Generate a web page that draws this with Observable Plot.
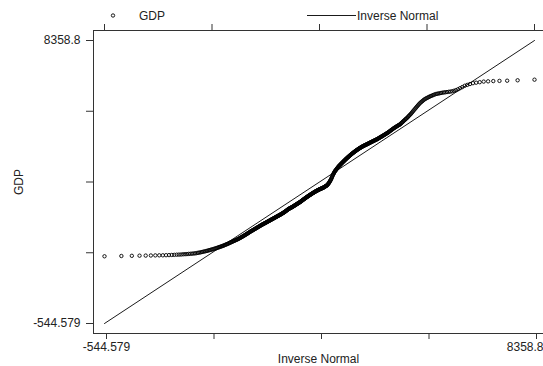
<!DOCTYPE html>
<html>
<head>
<meta charset="utf-8">
<script src="https://cdn.jsdelivr.net/npm/d3@7"></script>
<script src="https://cdn.jsdelivr.net/npm/@observablehq/plot@0.6"></script>
<style>
  html, body { margin: 0; padding: 0; background: #fff; }
  #wrap { position: relative; width: 543px; height: 366px; font-family: "Liberation Sans", Arial, sans-serif; color: #222; overflow: hidden; }
  #wrap svg { display: block; }
  #legend { position: absolute; left: 0; top: 0; }
  #chart { position: absolute; left: 0; top: 0; }
</style>
</head>
<body>
<div id="wrap">
  <div id="chart"></div>
  <div id="legend"></div>
</div>
<script>
// Sorted GDP observations (ascending)
const gdp = [
  1570,1579,1585,1589,1592,1595,1598,1600,1601,1604,
  1607,1612,1615,1620,1623,1626,1633,1636,1639,1645,
  1648,1653,1658,1662,1670,1680,1686,1695,1705,1714,
  1723,1732,1741,1751,1760,1770,1779,1788,1798,1807,
  1817,1827,1837,1848,1858,1868,1878,1888,1899,1909,
  1920,1931,1942,1953,1964,1976,1987,1998,2009,2020,
  2030,2041,2051,2061,2072,2082,2092,2102,2113,2123,
  2135,2146,2158,2170,2182,2193,2205,2217,2228,2240,
  2252,2264,2276,2288,2300,2311,2323,2335,2347,2359,
  2369,2379,2389,2399,2410,2420,2430,2440,2450,2460,
  2470,2480,2490,2500,2510,2519,2529,2539,2549,2559,
  2567,2576,2584,2592,2601,2609,2617,2625,2634,2642,
  2650,2658,2667,2675,2683,2691,2699,2708,2716,2724,
  2732,2740,2748,2756,2764,2771,2779,2787,2795,2803,
  2811,2818,2826,2833,2841,2848,2856,2863,2871,2878,
  2886,2894,2903,2911,2919,2927,2935,2944,2952,2960,
  2970,2980,2989,2999,3009,3019,3029,3038,3048,3058,
  3065,3072,3079,3086,3093,3099,3106,3113,3120,3127,
  3135,3143,3151,3159,3167,3174,3182,3190,3198,3206,
  3214,3222,3229,3237,3245,3253,3261,3268,3276,3284,
  3293,3302,3311,3320,3330,3339,3348,3357,3366,3375,
  3384,3392,3401,3409,3418,3426,3435,3443,3452,3460,
  3468,3476,3484,3492,3500,3507,3515,3523,3531,3539,
  3546,3553,3561,3568,3575,3582,3589,3597,3604,3611,
  3617,3624,3630,3636,3643,3649,3655,3661,3668,3674,
  3679,3685,3690,3695,3700,3705,3711,3716,3721,3726,
  3731,3738,3746,3753,3761,3768,3776,3783,3791,3798,
  3806,3821,3836,3852,3867,3882,3903,3924,3944,3965,
  3986,4014,4041,4069,4096,4124,4147,4169,4192,4214,
  4237,4253,4269,4284,4300,4316,4332,4348,4363,4379,
  4395,4408,4420,4433,4445,4458,4471,4483,4496,4508,
  4521,4533,4545,4558,4570,4582,4594,4606,4619,4631,
  4643,4654,4666,4677,4689,4700,4711,4723,4734,4746,
  4757,4767,4778,4788,4798,4809,4819,4829,4839,4850,
  4860,4870,4879,4889,4898,4908,4917,4927,4936,4946,
  4955,4963,4971,4980,4988,4996,5004,5012,5021,5029,
  5037,5044,5051,5058,5065,5072,5078,5085,5092,5099,
  5106,5114,5121,5129,5136,5144,5151,5159,5166,5174,
  5181,5189,5196,5204,5211,5219,5227,5234,5242,5249,
  5257,5267,5276,5286,5296,5306,5315,5325,5335,5344,
  5354,5365,5375,5386,5397,5408,5418,5429,5440,5450,
  5461,5475,5489,5503,5517,5531,5544,5558,5572,5586,
  5600,5613,5625,5638,5650,5663,5676,5688,5701,5713,
  5726,5747,5767,5788,5809,5830,5850,5871,5892,5912,
  5933,5959,5985,6010,6036,6062,6093,6125,6156,6188,
  6219,6251,6284,6316,6348,6380,6406,6432,6457,6483,
  6509,6527,6544,6562,6579,6597,6612,6627,6643,6658,
  6673,6682,6690,6699,6708,6717,6724,6731,6737,6744,
  6751,6760,6777,6796,6824,6858,6893,6934,6962,6990,
  7016,7031,7047,7066,7074,7082,7088,7094,7107,7126
];

// Common axis extent (both axes) and its tick labels
const axisMin = -544.579;
const axisMax = 8358.8;
const tickLabels = ["-544.579", "", "", "", "8358.8"];

// Legend entries
const legendItems = ["GDP", "Inverse Normal"];

// Inverse of the standard normal CDF (Acklam's rational approximation)
function invNorm(p) {
  const a = [-3.969683028665376e+01, 2.209460984245205e+02, -2.759285104469687e+02, 1.383577518672690e+02, -3.066479806614716e+01, 2.506628277459239e+00];
  const b = [-5.447609879822406e+01, 1.615858368580409e+02, -1.556989798598866e+02, 6.680131188771972e+01, -1.328068155288572e+01];
  const c = [-7.784894002430293e-03, -3.223964580411365e-01, -2.400758277161838e+00, -2.549732539343734e+00, 4.374664141464968e+00, 2.938163982698783e+00];
  const d = [7.784695709041462e-03, 3.224671290700398e-01, 2.445134137142996e+00, 3.754408661907416e+00];
  const pl = 0.02425, ph = 1 - pl;
  let q, r;
  if (p < pl) {
    q = Math.sqrt(-2 * Math.log(p));
    return (((((c[0]*q+c[1])*q+c[2])*q+c[3])*q+c[4])*q+c[5]) / ((((d[0]*q+d[1])*q+d[2])*q+d[3])*q+1);
  }
  if (p > ph) {
    q = Math.sqrt(-2 * Math.log(1 - p));
    return -(((((c[0]*q+c[1])*q+c[2])*q+c[3])*q+c[4])*q+c[5]) / ((((d[0]*q+d[1])*q+d[2])*q+d[3])*q+1);
  }
  q = p - 0.5; r = q * q;
  return (((((a[0]*r+a[1])*r+a[2])*r+a[3])*r+a[4])*r+a[5])*q / (((((b[0]*r+b[1])*r+b[2])*r+b[3])*r+b[4])*r+1);
}

// Theoretical normal quantiles at plotting positions i/(n+1),
// scaled so the extreme quantiles land on the axis extent
const n = gdp.length;
const zMax = -invNorm(1 / (n + 1));
const mu = (axisMin + axisMax) / 2;
const sigma = (axisMax - axisMin) / 2 / zMax;
const points = gdp.map((v, i) => ({ q: mu + sigma * invNorm((i + 1) / (n + 1)), gdp: v }));

const ticks = d3.range(5).map(k => axisMin + k * (axisMax - axisMin) / 4);
const fmt = v => tickLabels[ticks.indexOf(v)] ?? "";
const ink = "#333";
const font = '"Liberation Sans", Arial, sans-serif';

const chart = Plot.plot({
  width: 543,
  height: 366,
  marginLeft: 93,
  marginRight: 0,
  marginTop: 30,
  marginBottom: 33,
  style: { fontFamily: font, fontSize: "12px", color: "#222", background: "#fff", overflow: "visible" },
  x: { domain: [axisMin, axisMax], insetLeft: 11, insetRight: 9 },
  y: { domain: [axisMin, axisMax], insetTop: 10, insetBottom: 10 },
  marks: [
    Plot.frame({ anchor: "left", stroke: ink }),
    Plot.frame({ anchor: "top", stroke: ink }),
    Plot.frame({ anchor: "bottom", stroke: ink }),
    // Bottom axis: ticks, left-end label and title
    Plot.axisX({ anchor: "bottom", ticks, tickFormat: v => (v === axisMax ? "" : fmt(v)), tickSize: 6, tickPadding: 3, stroke: ink,
      dx: 2, label: "Inverse Normal", labelAnchor: "center", labelArrow: "none", labelOffset: 29 }),
    // Right-end label kept inside the page edge
    Plot.axisX({ anchor: "bottom", ticks: [axisMax], tickFormat: fmt, tickSize: 6, tickPadding: 3, stroke: "none",
      textAnchor: "end", dx: 9, label: null }),
    Plot.axisX({ anchor: "top", ticks, tickFormat: () => "", tickSize: 7, stroke: ink, label: null }),
    Plot.axisY({ anchor: "left", ticks, tickFormat: fmt, tickSize: 7, tickPadding: 6, stroke: ink,
      label: "GDP", labelAnchor: "center", labelArrow: "none", labelOffset: 79 }),
    // Reference line y = x
    Plot.line([[axisMin, axisMin], [axisMax, axisMax]], { stroke: "#000", strokeWidth: 0.9 }),
    // Observed quantiles vs. inverse normal
    Plot.dot(points, { x: "q", y: "gdp", r: 1.7, fill: "none", stroke: "#000", strokeWidth: 0.9 })
  ]
});
document.getElementById("chart").append(chart);

// Legend strip across the top
const leg = d3.select("#legend").append("svg")
  .attr("width", 543).attr("height", 30)
  .style("font-family", font).style("font-size", "12px");
leg.append("circle").attr("cx", 113).attr("cy", 15.5).attr("r", 1.7)
  .attr("fill", "none").attr("stroke", "#000").attr("stroke-width", 0.9);
leg.append("text").attr("x", 139).attr("y", 20).attr("fill", "#222").text(legendItems[0]);
leg.append("line").attr("x1", 307).attr("x2", 356).attr("y1", 15.5).attr("y2", 15.5)
  .attr("stroke", "#000").attr("stroke-width", 0.9);
leg.append("text").attr("x", 357).attr("y", 20).attr("fill", "#222").text(legendItems[1]);
</script>
</body>
</html>
